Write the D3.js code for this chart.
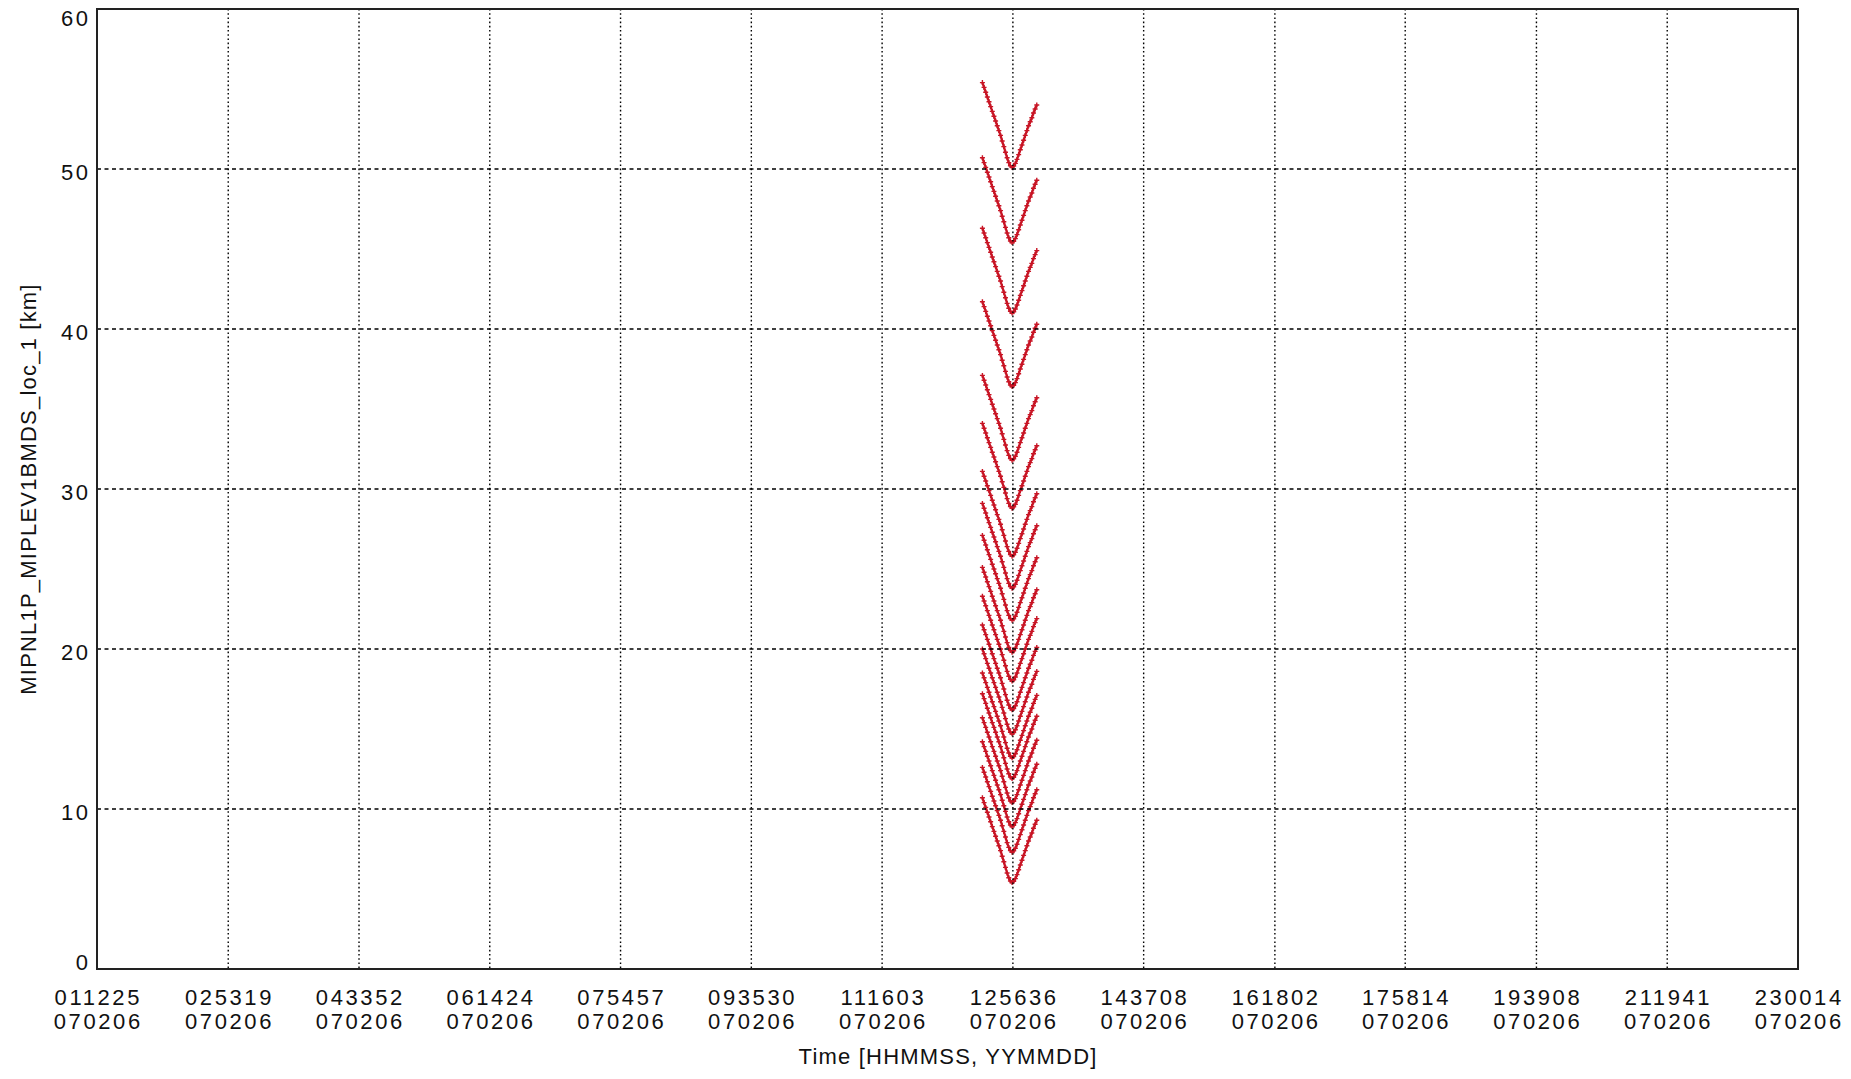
<!DOCTYPE html>
<html>
<head>
<meta charset="utf-8">
<script src="https://cdn.jsdelivr.net/npm/d3@7"></script>
<style>
  html, body { margin: 0; padding: 0; background: #ffffff; }
  svg { display: block; }
  text { font-family: "Liberation Sans", Arial, sans-serif; fill: #111; }
</style>
</head>
<body>
<svg id="chart" width="1851" height="1079"></svg>
<script>
// ---- data ----
const xTickTimes = ["011225","025319","043352","061424","075457","093530","111603",
                    "125636","143708","161802","175814","193908","211941","230014"];
const xTickDate = "070206";
const yTicks = [0, 10, 20, 30, 40, 50, 60];

// scan times (HHMMSS) of the points along each sweep curve
const scanTimes = ["123310","123426","123542","123658","123814","123930","124046","124202",
                   "124318","124434","124550","124706","124822","124938","125054","125210",
                   "125326","125442","125558","125714","125830","125946","130102","130218",
                   "130334","130450","130606","130722","130838","130954","131110","131226",
                   "131342","131458"];
// altitude above each sweep's minimum at each scan time [km]
const profileOffsets = [5.3, 5.0, 4.7, 4.4, 4.1, 3.8, 3.5, 3.2, 2.9, 2.6, 2.3, 2.0, 1.65, 1.3,
                        0.95, 0.6, 0.3, 0.1, 0.0, 0.08, 0.25, 0.5, 0.8, 1.1, 1.4, 1.7, 2.0,
                        2.3, 2.6, 2.85, 3.1, 3.4, 3.65, 3.9];
// minimum tangent altitude of each sweep [km]
const sweepMinima = [50.1, 45.4, 41.0, 36.4, 31.8, 28.8, 25.8, 23.8, 21.8, 19.8, 18.0,
                     16.2, 14.7, 13.2, 11.9, 10.4, 8.9, 7.3, 5.4];

const xTitle = "Time [HHMMSS, YYMMDD]";
const yTitle = "MIPNL1P_MIPLEV1BMDS_loc_1  [km]";

// ---- layout ----
const plot = { left: 97, right: 1798, top: 9, bottom: 969 };
const red = "#c81525";

const toSec = s => (+s.slice(0,2)) * 3600 + (+s.slice(2,4)) * 60 + (+s.slice(4,6));

const x = d3.scaleLinear()
  .domain([toSec(xTickTimes[0]), toSec(xTickTimes[xTickTimes.length - 1])])
  .range([plot.left, plot.right]);
const y = d3.scaleLinear().domain([0, 60]).range([plot.bottom, plot.top]);

const svg = d3.select("#chart");
svg.append("rect").attr("width", 1851).attr("height", 1079).attr("fill", "#fff");

// ---- data curves ----
const series = sweepMinima.map(m => scanTimes.map((t, i) => ({ t: toSec(t), v: m + profileOffsets[i] })));
const line = d3.line().curve(d3.curveMonotoneX).x(d => x(d.t)).y(d => y(d.v));
const gData = svg.append("g");
gData.selectAll("path.curve").data(series).join("path")
  .attr("class", "curve")
  .attr("d", line)
  .attr("fill", "none")
  .attr("stroke", red)
  .attr("stroke-width", 2.3);
const plus = "M-2.5,0H2.5M0,-2.5V2.5";
gData.selectAll("g.pts").data(series).join("g")
  .attr("class", "pts")
  .selectAll("path").data(d => d).join("path")
  .attr("transform", d => `translate(${x(d.t)},${y(d.v)})`)
  .attr("d", plus)
  .attr("stroke", red)
  .attr("stroke-width", 1.4)
  .attr("fill", "none");

// ---- grid ----
const gGrid = svg.append("g");
gGrid.selectAll("line.vg").data(xTickTimes.slice(1, -1)).join("line")
  .attr("x1", d => x(toSec(d))).attr("x2", d => x(toSec(d)))
  .attr("y1", plot.top).attr("y2", plot.bottom)
  .attr("stroke", "#000").attr("stroke-width", 1.4)
  .attr("stroke-dasharray", "1.6,2.6");
gGrid.selectAll("line.hg").data(yTicks.slice(1, -1)).join("line")
  .attr("x1", plot.left).attr("x2", plot.right)
  .attr("y1", d => y(d)).attr("y2", d => y(d))
  .attr("stroke", "#000").attr("stroke-width", 1.4)
  .attr("stroke-dasharray", "4,3.5");

// ---- frame ----
svg.append("rect")
  .attr("x", plot.left).attr("y", plot.top)
  .attr("width", plot.right - plot.left).attr("height", plot.bottom - plot.top)
  .attr("fill", "none").attr("stroke", "#222").attr("stroke-width", 2);

// ---- axes labels ----
const lsDigits = 2.6;
const gx = svg.append("g");
const xl = gx.selectAll("text").data(xTickTimes).join("text")
  .attr("x", d => x(toSec(d)) + lsDigits / 2)
  .attr("text-anchor", "middle")
  .attr("font-size", 22)
  .attr("letter-spacing", lsDigits);
xl.append("tspan").attr("y", 1005).attr("x", d => x(toSec(d)) + lsDigits / 2).text(d => d);
xl.append("tspan").attr("y", 1029).attr("x", d => x(toSec(d)) + lsDigits / 2).text(xTickDate);

const yAxisLabelY = v => Math.min(Math.max(y(v) + 3, 18.5), 962.5);
svg.append("g").selectAll("text").data(yTicks).join("text")
  .attr("x", 88 + lsDigits)
  .attr("y", d => yAxisLabelY(d))
  .attr("dy", "0.36em")
  .attr("text-anchor", "end")
  .attr("font-size", 22)
  .attr("letter-spacing", lsDigits)
  .text(d => d);

svg.append("text")
  .attr("x", (plot.left + plot.right) / 2 + 0.6)
  .attr("y", 1064)
  .attr("text-anchor", "middle")
  .attr("font-size", 22)
  .attr("letter-spacing", 1.2)
  .text(xTitle);

svg.append("text")
  .attr("transform", `translate(36, ${(plot.top + plot.bottom) / 2}) rotate(-90)`)
  .attr("text-anchor", "middle")
  .attr("font-size", 22)
  .attr("letter-spacing", 1.2)
  .text(yTitle);
</script>
</body>
</html>
